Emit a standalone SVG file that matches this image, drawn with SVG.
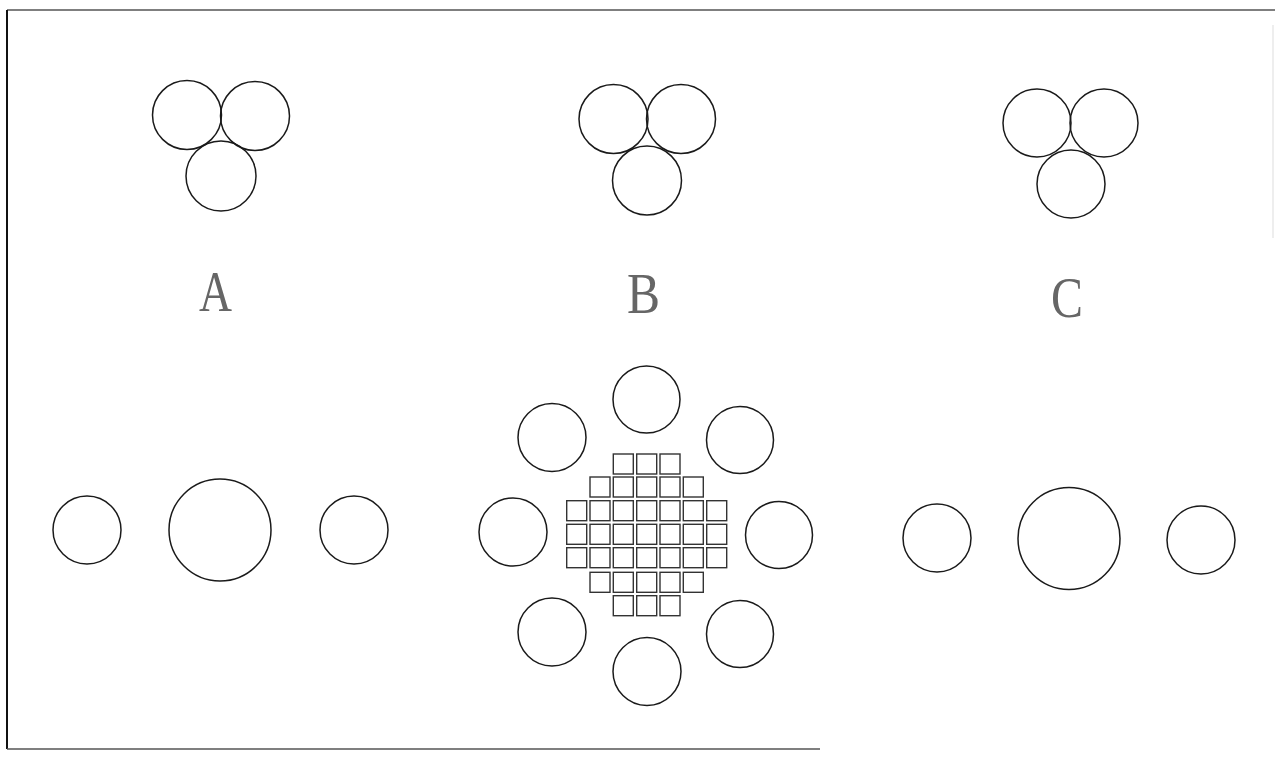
<svg xmlns="http://www.w3.org/2000/svg" width="1275" height="757" viewBox="0 0 1275 757">
<style>
.c{fill:none;stroke:#1a1a1a;stroke-width:1.5}
.s{fill:none;stroke:#333;stroke-width:1.4}
.b{fill:none;stroke:#555;stroke-width:1.5}
.t{font-family:"Liberation Serif","DejaVu Serif",serif;font-size:56px;fill:#666}
</style>
<defs>
<rect id="sq" width="20" height="20" class="s"/>
</defs>
<rect width="1275" height="757" fill="#fff"/>
<g id="frame">
<line x1="7" y1="10" x2="1275" y2="10" class="b"/>
<line x1="7" y1="10" x2="7" y2="749" stroke="#111" stroke-width="2"/>
<line x1="7" y1="749" x2="820" y2="749" class="b"/>
<line x1="1273" y1="25" x2="1273" y2="238" stroke="#ddd" stroke-width="1"/>
</g>
<g id="groupA-top">
<circle cx="187" cy="115" r="34.5" class="c"/>
<circle cx="255" cy="116" r="34.5" class="c"/>
<circle cx="221" cy="176" r="35" class="c"/>
</g>
<g id="groupB-top">
<circle cx="613.5" cy="119" r="34.5" class="c"/>
<circle cx="681" cy="119" r="34.5" class="c"/>
<circle cx="647" cy="180.5" r="34.5" class="c"/>
</g>
<g id="groupC-top">
<circle cx="1037" cy="123" r="34" class="c"/>
<circle cx="1104" cy="123" r="34" class="c"/>
<circle cx="1071" cy="184" r="34" class="c"/>
</g>
<g id="labels">
<text class="t" x="199" y="311" textLength="33" lengthAdjust="spacingAndGlyphs">A</text>
<text class="t" x="627" y="313" textLength="33" lengthAdjust="spacingAndGlyphs">B</text>
<text class="t" x="1051" y="317" textLength="32" lengthAdjust="spacingAndGlyphs">C</text>
</g>
<g id="groupA-bottom">
<circle cx="87" cy="530" r="34" class="c"/>
<circle cx="220" cy="530" r="51" class="c"/>
<circle cx="354" cy="530" r="34" class="c"/>
</g>
<g id="groupC-bottom">
<circle cx="937" cy="538" r="34" class="c"/>
<circle cx="1069" cy="538.5" r="51" class="c"/>
<circle cx="1201" cy="540" r="34" class="c"/>
</g>
<g id="groupB-ring">
<circle cx="646.5" cy="399.5" r="33.5" class="c"/>
<circle cx="552" cy="437.5" r="34" class="c"/>
<circle cx="740" cy="440" r="33.5" class="c"/>
<circle cx="513" cy="532" r="34" class="c"/>
<circle cx="779" cy="535" r="33.5" class="c"/>
<circle cx="552" cy="632" r="34" class="c"/>
<circle cx="740" cy="634" r="33.5" class="c"/>
<circle cx="647" cy="671.5" r="34" class="c"/>
</g>
<g id="groupB-grid">
<use href="#sq" x="613.3" y="454"/><use href="#sq" x="636.7" y="454"/><use href="#sq" x="660" y="454"/>
<use href="#sq" x="590" y="477"/><use href="#sq" x="613.3" y="477"/><use href="#sq" x="636.7" y="477"/><use href="#sq" x="660" y="477"/><use href="#sq" x="683.3" y="477"/>
<use href="#sq" x="566.7" y="500.7"/><use href="#sq" x="590" y="500.7"/><use href="#sq" x="613.3" y="500.7"/><use href="#sq" x="636.7" y="500.7"/><use href="#sq" x="660" y="500.7"/><use href="#sq" x="683.3" y="500.7"/><use href="#sq" x="706.7" y="500.7"/>
<use href="#sq" x="566.7" y="524.3"/><use href="#sq" x="590" y="524.3"/><use href="#sq" x="613.3" y="524.3"/><use href="#sq" x="636.7" y="524.3"/><use href="#sq" x="660" y="524.3"/><use href="#sq" x="683.3" y="524.3"/><use href="#sq" x="706.7" y="524.3"/>
<use href="#sq" x="566.7" y="547.7"/><use href="#sq" x="590" y="547.7"/><use href="#sq" x="613.3" y="547.7"/><use href="#sq" x="636.7" y="547.7"/><use href="#sq" x="660" y="547.7"/><use href="#sq" x="683.3" y="547.7"/><use href="#sq" x="706.7" y="547.7"/>
<use href="#sq" x="590" y="572.3"/><use href="#sq" x="613.3" y="572.3"/><use href="#sq" x="636.7" y="572.3"/><use href="#sq" x="660" y="572.3"/><use href="#sq" x="683.3" y="572.3"/>
<use href="#sq" x="613.3" y="595.7"/><use href="#sq" x="636.7" y="595.7"/><use href="#sq" x="660" y="595.7"/>
</g>
</svg>
